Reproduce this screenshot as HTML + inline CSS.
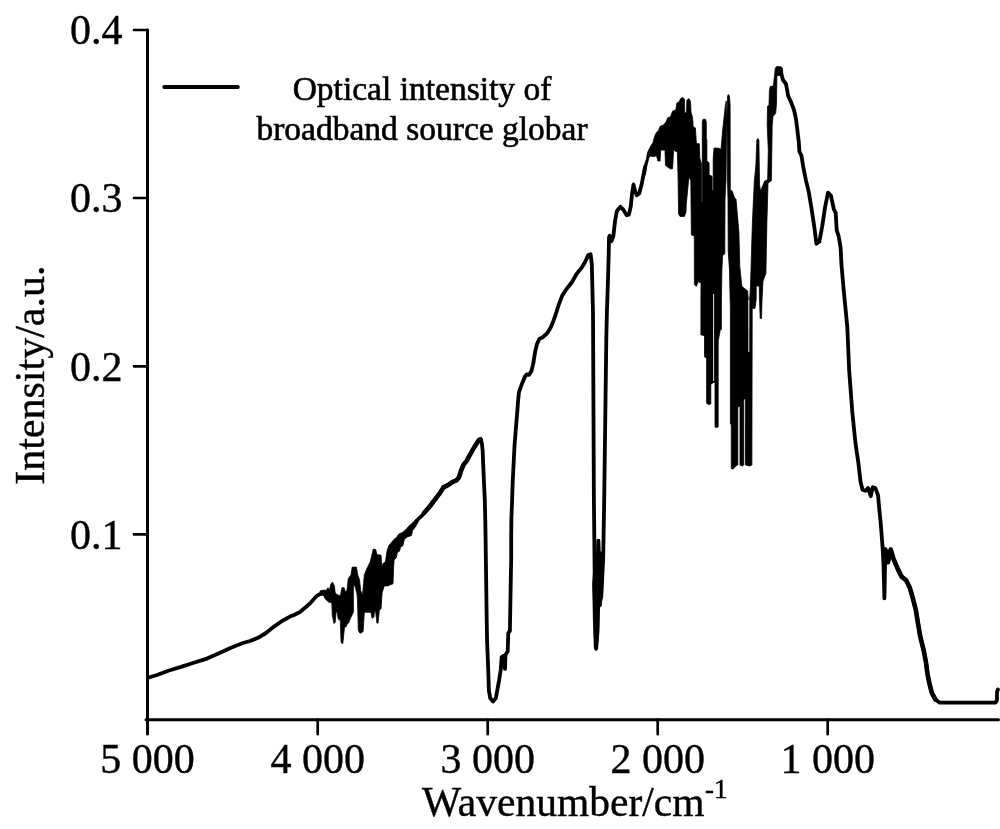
<!DOCTYPE html>
<html><head><meta charset="utf-8"><style>
html,body{margin:0;padding:0;background:#fff;}
body{width:1000px;height:829px;overflow:hidden;position:relative;font-family:"Liberation Serif",serif;color:#000;}
svg{position:absolute;left:0;top:0;will-change:transform;}
.t{position:absolute;white-space:nowrap;line-height:1;}
</style></head><body>
<svg width="1000" height="829" viewBox="0 0 1000 829">
<g font-family="Liberation Serif, serif" fill="#000" stroke="#000" stroke-width="0.4">
<text x="122.4" y="44.3" font-size="42" text-anchor="end">0.4</text>
<text x="122.4" y="212.3" font-size="42" text-anchor="end">0.3</text>
<text x="122.4" y="380.6" font-size="42" text-anchor="end">0.2</text>
<text x="122.4" y="548.7" font-size="42" text-anchor="end">0.1</text>
<text x="147.5" y="773" font-size="42" text-anchor="middle">5 000</text>
<text x="317.7" y="773" font-size="42" text-anchor="middle">4 000</text>
<text x="487.7" y="773" font-size="42" text-anchor="middle">3 000</text>
<text x="657.7" y="773" font-size="42" text-anchor="middle">2 000</text>
<text x="827.7" y="773" font-size="42" text-anchor="middle">1 000</text>
<text x="422" y="816.3" font-size="41.5">Wavenumber/cm</text><text x="705" y="797.5" font-size="27">-1</text>
<text transform="translate(44.3,484.8) rotate(-90)" font-size="42">Intensity/a.u.</text>
<text x="422" y="99.5" font-size="33.5" text-anchor="middle" stroke="#000" stroke-width="0.6">Optical intensity of</text>
<text x="422" y="139.5" font-size="33.5" text-anchor="middle" stroke="#000" stroke-width="0.6">broadband source globar</text>
</g>
<path d="M147.5 30 V734 M146 719.7 H998.5" fill="none" stroke="#000" stroke-width="3" stroke-linecap="round" stroke-linejoin="round"/><path d="M134 30 H147.5 M134 198 H147.5 M134 366.3 H147.5 M134 534.4 H147.5 M317.7 719.7 V734.2 M487.7 719.7 V734.2 M657.7 719.7 V734.2 M827.7 719.7 V734.2" fill="none" stroke="#000" stroke-width="2.7" stroke-linecap="round" stroke-linejoin="round"/><polyline points="148,677.8 157,675 169,670.5 181,666.9 193,663 207,658.6 219,653.2 231,647.8 243,643 250,641 258,637.8 266,633 274,626.6 282,621 290,616.6 294,615 299.6,612.2 306,607 310.8,602.6 316.4,596.2 320.4,593.8 323.6,592.6" fill="none" stroke="#000" stroke-width="3.8" stroke-linejoin="round" stroke-linecap="round"/><polyline points="424.3,512.7 429.1,507.3 432.7,502.5 436.4,497.7 440.2,492.6 443.4,487.4 448.4,484.9 452.7,481.9 456.5,480.3 459,477.3 461.1,470.5 463.6,464.6 467,460.4 469.6,455.3 472.5,450.3 475.5,445.2 478.9,440.1 480.5,439.3 481.8,442.7 482.7,451.1 483.1,462.1 483.9,480.7 484.8,500 485.3,521.3 485.6,540 486.3,590 486.7,620 487.1,641.7 488.2,668.9 488.9,690.7 490.3,698.3 493,701.5 495.8,698.3 497.4,689.6 499,680.9 500.7,670 501.7,657 503.4,655.9 505,668.9 505.5,654.8 507.7,651.5 508.3,633 509.9,630.9 510.9,573.5 511.2,560 511.2,536.6 511.4,518.5 512.1,500.4 512.7,482.3 513.6,464.2 514.5,446.2 515.9,428.1 516.6,420 517.4,410 518,402 518.9,392.4 521.9,383.9 524.9,376.7 526.7,374.3 529.1,374.9 531.5,370.7 533.3,363.4 535.2,351.4 537,344.1 539.4,338.7 542.4,337.5 547.2,333.3 550.8,327.2 553.3,321.2 555.7,314.5 558.6,305.2 562.2,295.6 567.1,288.3 571.9,282.3 576.7,273.8 581.6,267.8 585.2,261.7 588.2,255.1 590.6,254.3 591.8,264.2 592.4,288.3 593,312.5 593.9,500 594.5,558 595.1,616 596.2,648.5 597.5,630 598.2,600 598.4,540.6 599.5,570 600.3,600 601.3,596.6 603.2,558 604.2,500 606.3,340 606.9,312.5 608.1,276.2 608.7,254.4 609,237.5 609.7,235.7 611.5,241.2 613.3,236.3 615.1,220.7 616.9,211 620.5,206.8 623.5,209.8 626.5,215.2 628.9,214.6 630.8,206.2 632,194.1 633.5,184.5 635,191.1 636.8,195.3 639.2,193.5 641.6,184.5 643.5,175 645,167" fill="none" stroke="#000" stroke-width="3.8" stroke-linejoin="round" stroke-linecap="round"/><polyline points="780.5,71 783,80 786,84 788.2,96 791.6,103.4 794,110 795.8,118 797,127 798.8,142 799.4,151.6 801.4,155.5 803.3,167.1 806,180.6 808.7,191.6 811.6,209 814.5,228.3 816.4,243.8 819.3,241.8 822.2,226.4 825.1,207.1 828,192.6 830.9,195.5 833.8,209 835.7,212.9 836.7,230.2 838.6,236 840.6,247.6 841.5,265 843.5,288.2 845.4,307.5 847.3,326.9 849.2,371 852.3,411.9 855.4,442.6 858.4,463.1 860.5,481.5 862.5,489.7 865.6,490.8 868.1,488.1 870.8,496.2 872.7,487.2 875.4,488.1 878.1,495.3 879,506.1 880.8,524.2 882.6,547.7 883.5,564 884.4,598.3 885.3,549.5 888,562.2 890.7,549.5 893.4,558.6 898,569.4 901.6,576.6 906.1,580.2 909.7,587.5 912.4,596.5 915.9,610.3 918,623.3 920.2,636.4 923.8,650.9 926,662.5 927.5,674.1 929.6,684.2 931.8,692.9 935.4,699.4 939.8,702.7 995.5,702.7 997,700 997,692 998,689.5" fill="none" stroke="#000" stroke-width="3.8" stroke-linejoin="round" stroke-linecap="round"/><polyline points="424.3,512.7 429.1,507.3 432.7,502.5 436.4,497.7 440.2,492.6 443.4,487.4 448.4,484.9 452.7,481.9 456.5,480.3 459,477.3 461.1,470.5 463.6,464.6 467,460.4 469.6,455.3 472.5,450.3 475.5,445.2 478.9,440.1 480.5,439.3" fill="none" stroke="#000" stroke-width="4.6" stroke-linejoin="round" stroke-linecap="round"/><polyline points="885.3,549.5 888,562.2 890.7,549.5 893.4,558.6 898,569.4 901.6,576.6 906.1,580.2 909.7,587.5 912.4,596.5 915.9,610.3 918,623.3 920.2,636.4 923.8,650.9 926,662.5 927.5,674.1 929.6,684.2 931.8,692.9 935.4,699.4" fill="none" stroke="#000" stroke-width="4.6" stroke-linejoin="round" stroke-linecap="round"/><polygon points="320,591 322.5,590.2 326.3,590.2 328,587.7 329.3,590.6 331,583.5 332.7,582.2 334.4,586 335.2,592.8 336.9,594.4 340.3,596.1 342,587.7 344.1,587.7 345.4,591.9 347,590.2 348.3,578.4 351,574.9 352.2,567.1 356.4,567.1 357.7,574.9 359.5,579.8 360.7,590.6 362.5,595.4 364.3,574.9 367.3,567.7 370.3,561.7 373.3,549 375.7,549.6 376.9,554.5 379.3,555.1 380,554.5 381.1,555.6 381.6,566.4 383.3,563.1 385.4,562.1 387,551.2 388.7,545.8 391.4,542.5 394.1,539.3 396.3,537.7 399,533.9 402.8,532.2 406,529.5 408.7,526.3 412.5,523 416.3,518.7 420.1,515.4 423.4,511.1 425,510 425,514.5 423.4,516.5 419,520.3 415.8,526.3 412.5,530.6 411.5,535.5 407.1,537.1 404.4,539.3 402.8,545.8 400.6,546.9 399.5,551.2 397.4,552.3 396.3,557.7 394.1,559.9 393.6,567.5 393,583.8 390.3,584.8 387.6,585.9 384.3,585.9 382.2,592.4 381.6,600 381.1,608.7 379.3,609.9 378.1,623.1 376.9,623.1 375.7,612.3 374.5,611.1 373.9,617.1 372.1,618.3 370.9,612.3 366.1,612.3 364.3,612.3 363.1,631.6 360.1,633.4 358.3,630.4 357.5,600 357,594.2 355,586 353.4,585.8 353.4,612.3 351,617.1 348.6,623.1 347.5,623.2 346.2,626.6 344.5,627.4 342.8,643.5 341.1,642.6 340.3,620.6 338.2,619 337.3,612.2 336.1,612.2 335.2,622.3 334,623.6 332.3,615.6 331.8,602.9 328.5,602 325.1,598.7 323.4,595.3 320,595.3" fill="#000" stroke="#000" stroke-width="0.8" stroke-linejoin="round"/><polygon points="592.6,584 593.4,621 594.3,648.2 596,650.7 598.5,638 599.3,607.7 601.4,606 602.7,584 603.5,560.5 602,552 599.8,552 597.6,539.4 597,552 595,552" fill="#000" stroke="#000" stroke-width="0.8" stroke-linejoin="round"/><polygon points="642.2,175 644.3,165.3 646.5,158.8 647.6,152.3 650.9,145.8 653,142.5 654.7,136 656.3,132.8 658.5,130.6 660.1,126.2 663.3,125.2 666.1,121.9 667.7,117.6 670.4,117 672.6,111.1 675.8,110 676.9,102.9 679.1,101.8 680.7,98.6 682.9,97.5 684.5,99.1 684.7,112.7 686.5,112.7 686.9,100.2 688.8,98.6 690.5,101.3 691,112.1 692.6,117.6 693.2,126.8 695.4,127.9 696.4,143.6 699.3,143.7 699.8,157.9 700.9,162.2 701.4,163 701.4,202 702.3,202 702.3,122 703,119.3 705.5,119.3 706.3,122 706.3,139.4 706.9,139.4 706.9,161.1 708.5,162.2 709.1,163 709.1,175.3 711.2,175.8 712.1,176.5 712.1,190.5 712.9,190.5 713.2,189 713.2,159 714,148.1 717.8,148.1 721,149.2 722.7,130 725.3,106 726.3,101 726.5,122 726.8,122 727.6,96 728.4,94.5 729.4,96 730.1,104.5 730.3,189.8 732.3,191.2 734.5,198 736,199 738.9,231.8 739.8,266.6 741.8,286 743.7,287.9 747.6,290.8 748.3,300 748.8,330 749.3,330 749.6,300 750.5,286 752.4,222.2 754.3,181.6 755.9,165 756.8,140 757.9,138.5 758.9,140 759.5,184 760.5,191.2 764.7,181 767.7,179.7 768.3,150 767.2,125 767.5,106.2 769,105.4 769.4,91.3 770.2,86.6 773.4,85.8 774.5,75.7 775.3,68.2 776.5,66.6 781.2,66.8 782.5,68.4 782.8,75 776.9,75.7 776.5,103.1 775.7,113.3 773,116.4 772.2,125 771.4,180.6 768,183.3 766.9,222.2 765.9,273.4 764,278.2 763,281.3 762,300 761.5,318.5 760.2,318.5 759.5,300 759.2,286 756.3,286 756.1,300 755,308.4 752.2,308.4 751.9,465 749.8,466 745.4,465 745.4,399 743.7,399 743.7,465 742.4,466 740,465 740,406.7 737.8,406.7 737.8,465 737.2,465 733,469 731.3,468.7 731.3,424.4 730.4,424 730.4,310 729.9,290 729.5,270 728.2,251 728,200 727.5,180 727,125 726.5,125 726,180 725,200 724.8,253.9 722.6,255.4 721.9,270 721.4,300 721.4,329.5 720.3,329.5 718.2,341.1 718.2,427 716.5,427.6 715,427 715,382.2 714,382.2 710.8,384.3 710.8,404 708.7,404.5 706.6,403.3 706.6,358 704.5,357 704.5,335.8 700.9,334.8 700.9,300 701,283.1 698.1,281.7 696.3,286.4 694.4,284.6 694.3,236 691.4,235 691,200 690.8,180.7 688.9,176.9 686.3,203.9 686,212 684.4,216.4 680,216.4 678.6,214 678,175 677.4,152.3 673.6,150.1 672.6,168.6 670.9,169.1 668.2,167.5 665.5,165.3 665,150.1 660.6,150.1 660.1,161 657.9,161 657.4,158.8 656.3,155.6 654.1,156.6 649.8,156.1 648.7,158.8 646.5,167.5 645.4,175" fill="#000" stroke="#000" stroke-width="0.8" stroke-linejoin="round"/><path d="M713.6 294 V381 M748.8 300 V352" stroke="#fff" stroke-width="0.9"/><line x1="164.3" y1="86.9" x2="237.8" y2="86.9" stroke="#000" stroke-width="4" stroke-linecap="round"/>
</svg>
</body></html>
